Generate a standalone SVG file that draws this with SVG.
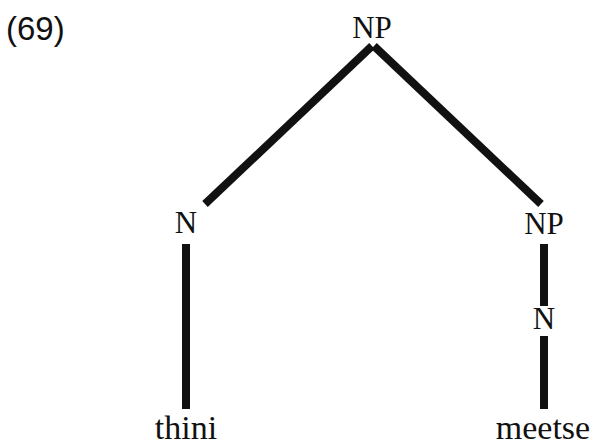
<svg xmlns="http://www.w3.org/2000/svg" width="592" height="447" viewBox="0 0 592 447">
<style>
.lbl{font-family:"Liberation Serif","Times New Roman",serif;font-size:31px;fill:#111;text-anchor:middle}
.leaf{font-family:"Liberation Serif","Times New Roman",serif;font-size:34px;fill:#111;text-anchor:middle}
.num{font-family:"Liberation Sans",Arial,sans-serif;font-size:33px;fill:#111}
.edge{stroke:#111;stroke-width:8;fill:none}
</style>
<rect width="592" height="447" fill="#fff"/>
<text class="num" x="6" y="40">(69)</text>
<g id="connectors">
<line class="edge" x1="372" y1="46" x2="205" y2="204"/>
<line class="edge" x1="374" y1="46" x2="541" y2="204"/>
<line class="edge" x1="186" y1="244" x2="186" y2="409"/>
<line class="edge" x1="544" y1="244" x2="544" y2="306"/>
<line class="edge" x1="544" y1="336" x2="544" y2="409"/>
</g>
<g id="np-root"><text class="lbl" x="372" y="38">NP</text></g>
<g id="n-left"><text class="lbl" x="186" y="233">N</text></g>
<g id="np-right"><text class="lbl" x="544" y="234">NP</text></g>
<g id="n-right"><text class="lbl" x="544" y="329">N</text></g>
<g id="thini"><text class="leaf" x="186" y="439">thini</text></g>
<g id="meetse"><text class="leaf" x="543" y="439">meetse</text></g>
</svg>
